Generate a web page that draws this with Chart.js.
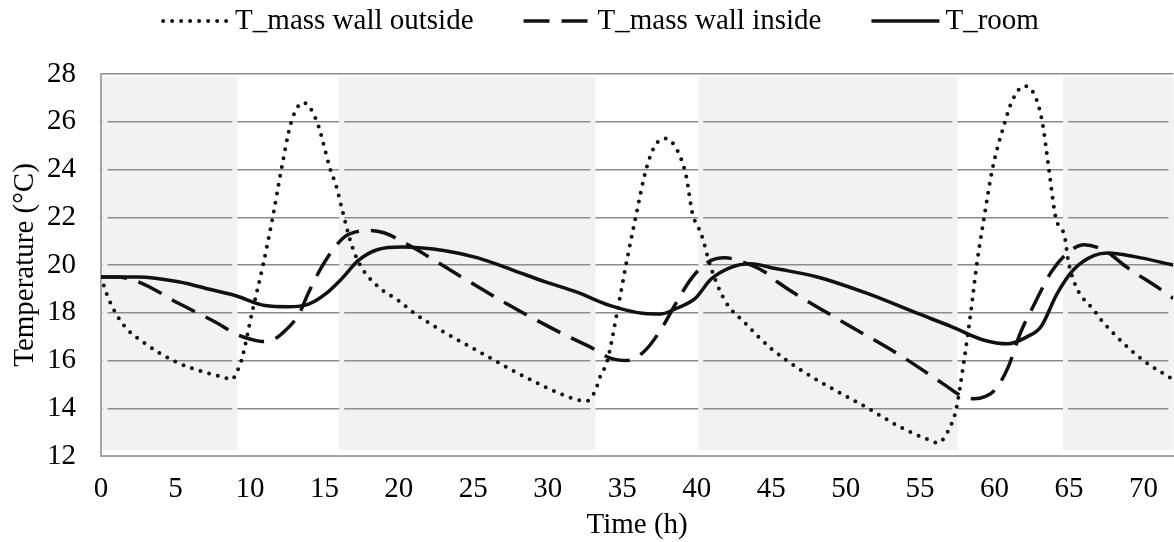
<!DOCTYPE html>
<html>
<head>
<meta charset="utf-8">
<title>Mass wall temperatures</title>
<script src="https://cdn.jsdelivr.net/npm/chart.js"></script>
<style>
    body { margin: 0; background: #fff; }
    canvas { display: block; }
</style>
</head>
<body>
<canvas id="tempChart" width="1174" height="542"></canvas>
<script>
// Outer face of the mass wall
const outsideHours = [0, 0.5, 1.5, 3, 5, 7, 8.2, 8.8, 9.1, 9.43, 10.14, 10.88, 11.53, 12.11, 12.78, 13.6, 14.5, 15.4,
    15.8, 16.2, 16.8, 17.4, 18.6, 20, 21, 23, 25.3, 27.6, 29.8, 31.5, 32.6, 33.2, 33.5, 34, 34.65, 35.25, 35.9, 36.6,
    37.2, 37.9, 38.7, 39.3, 39.7, 40.3, 40.95, 41.9, 43.2, 45, 47, 49.3, 51.5, 53.7, 55.5, 56.2, 57, 57.4, 57.95,
    58.4, 58.8, 59.3, 59.85, 60.7, 61.2, 62, 62.7, 63.2, 63.65, 64.1, 64.7, 65, 66.8, 68.2, 70, 72];
const outsideTemps = [19.5, 18.6, 17.5, 16.7, 15.95, 15.5, 15.3, 15.2, 15.5, 16, 18, 20, 22, 24, 26, 26.8, 26, 24,
    23.3, 22.3, 20.9, 20, 19.1, 18.5, 18, 17.2, 16.4, 15.6, 14.9, 14.45, 14.3, 14.75, 15.3, 16, 18, 20, 22, 24,
    25, 25.3, 24.8, 23.7, 22.2, 21.3, 19.9, 18.5, 17.6, 16.5, 15.6, 14.75, 14, 13.2, 12.7, 12.55, 13.2, 13.9, 16,
    18, 20, 22, 24, 26, 26.9, 27.5, 27.1, 26, 24, 22, 21.2, 20, 18, 17, 16, 15.2];

// Inner face of the mass wall
const insideHours = [0, 1, 2.5, 5.2, 7.7, 9.1, 10, 10.8, 11.5, 12.1, 13.3, 13.9, 14.8, 15.7, 16.4, 17.2, 18, 19, 20.9,
    24.2, 27.6, 30.9, 32.9, 34.2, 35.3, 36.5, 37.6, 38.7, 39.6, 40.7, 41.9, 43.2, 44.6, 45.4, 49.3, 53.7, 56.6, 57.7,
    58.6, 59.4, 60, 60.9, 61.7, 62.7, 63.8, 64.9, 66, 67.4, 68.9, 71.1, 72];
const insideTemps = [19.5, 19.5, 19.3, 18.4, 17.6, 17.1, 16.9, 16.8, 16.85, 17.1, 17.95, 18.8, 19.9, 20.75, 21.2,
    21.4, 21.45, 21.35, 20.75, 19.5, 18.25, 17.15, 16.55, 16.1, 16, 16.4, 17.3, 18.5, 19.4, 20.1, 20.3, 20.1, 19.7,
    19.3, 17.8, 16.2, 15, 14.55, 14.4, 14.5, 14.75, 15.7, 17.1, 18.4, 19.7, 20.5, 20.85, 20.6, 19.9, 19, 18.6];

// Room air
const roomHours = [0, 2.5, 5.2, 7.5, 9.1, 11, 12.6, 13.9, 15.1, 16.2, 17.3, 18.6, 20.2, 23.1, 25.3, 27.6, 29.8, 32,
    34.2, 36.5, 37.6, 38.7, 39.9, 40.95, 42.3, 43.6, 45.3, 48.1, 51.5, 54.8, 57.1, 59.3, 60.9, 62.2, 63.1, 64.2,
    65.3, 66.7, 67.6, 69.4, 72];
const roomTemps = [19.5, 19.5, 19.3, 18.95, 18.7, 18.3, 18.25, 18.35, 18.8, 19.45, 20.2, 20.65, 20.75, 20.6, 20.3,
    19.8, 19.3, 18.85, 18.3, 17.97, 17.95, 18.2, 18.6, 19.4, 19.9, 20.05, 19.85, 19.5, 18.8, 17.98, 17.42, 16.85,
    16.7, 17, 17.4, 18.8, 19.8, 20.4, 20.5, 20.35, 20];

// Shaded periods (h)
const bandStarts = [0, 15.9, 40, 64.5];
const bandEnds = [9.15, 33.2, 57.5, 72];

const seriesNames = ['T_mass wall outside', 'T_mass wall inside', 'T_room'];

function toPoints(hours, temps) {
    return hours.map((h, i) => ({ x: h, y: temps[i] }));
}

const serif = '"Liberation Serif", "Times New Roman", serif';
const bandColor = '#f2f2f2';

// grey day/night bands behind the grid, with the grid cut near their edges
const bandPlugin = {
    id: 'bands',
    beforeDraw(chart) {
        const { ctx, scales: { x, y } } = chart;
        const top = y.getPixelForValue(28) + 3;
        const bottom = y.getPixelForValue(12) - 6;
        ctx.save();
        ctx.fillStyle = bandColor;
        bandStarts.forEach((s, i) => {
            const x0 = x.getPixelForValue(s) + 1.5;
            const x1 = Math.min(x.getPixelForValue(bandEnds[i]), chart.width + 10);
            ctx.beginPath();
            ctx.roundRect(x0, top, x1 - x0, bottom - top, 3);
            ctx.fill();
        });
        ctx.restore();
    },
    beforeDatasetsDraw(chart) {
        const { ctx, scales: { x, y } } = chart;
        const top = y.getPixelForValue(28) + 3;
        const bottom = y.getPixelForValue(12) - 6;
        ctx.save();
        ctx.fillStyle = bandColor;
        bandStarts.forEach((s, i) => {
            const x0 = x.getPixelForValue(s) + 1.5;
            const x1 = x.getPixelForValue(bandEnds[i]);
            ctx.fillRect(x0, top, 5, bottom - top);
            ctx.fillRect(x1 - 5, top, 5, bottom - top);
        });
        ctx.restore();
    }
};

// legend row drawn across the top
const lineLegend = {
    id: 'lineLegend',
    afterDraw(chart) {
        const { ctx } = chart;
        const sample = 68, gap = 6, spacing = 50, cy = 21;
        ctx.save();
        ctx.font = '29px ' + serif;
        const widths = chart.data.datasets.map(ds => ctx.measureText(ds.label).width);
        const total = widths.reduce((a, w) => a + sample + gap + w, 0) + spacing * (widths.length - 1);
        let cx = 600 - total / 2;
        chart.data.datasets.forEach((ds, i) => {
            ctx.strokeStyle = ds.borderColor;
            ctx.lineWidth = ds.borderWidth;
            ctx.lineCap = ds.borderCapStyle || 'butt';
            ctx.setLineDash(ds.borderDash || []);
            ctx.beginPath();
            ctx.moveTo(cx + (ds.borderCapStyle === 'round' ? 2 : 0), cy);
            ctx.lineTo(cx + sample, cy);
            ctx.stroke();
            ctx.setLineDash([]);
            ctx.fillStyle = '#000';
            ctx.textBaseline = 'middle';
            ctx.fillText(ds.label, cx + sample + gap, cy);
            cx += sample + gap + widths[i] + spacing;
        });
        ctx.restore();
    }
};

Chart.defaults.font.family = serif;
Chart.defaults.font.size = 29;
Chart.defaults.color = '#000';

new Chart(document.getElementById('tempChart'), {
    type: 'line',
    data: {
        datasets: [
            {
                label: seriesNames[0],
                data: toPoints(outsideHours, outsideTemps),
                borderColor: '#111',
                borderWidth: 4,
                borderDash: [0, 9],
                borderCapStyle: 'round'
            },
            {
                label: seriesNames[1],
                data: toPoints(insideHours, insideTemps),
                borderColor: '#111',
                borderWidth: 3.5,
                borderDash: [26, 12]
            },
            {
                label: seriesNames[2],
                data: toPoints(roomHours, roomTemps),
                borderColor: '#111',
                borderWidth: 3.5
            }
        ]
    },
    options: {
        responsive: false,
        animation: false,
        layout: { padding: { top: 74, left: 0, right: 0, bottom: 0 } },
        elements: {
            point: { radius: 0 },
            line: { cubicInterpolationMode: 'monotone', fill: false }
        },
        plugins: {
            legend: { display: false },
            tooltip: { enabled: false }
        },
        scales: {
            x: {
                type: 'linear',
                min: 0,
                max: 72,
                afterFit(scale) { scale.height = 86; },
                ticks: { stepSize: 5, includeBounds: false, padding: 16, maxRotation: 0 },
                grid: { display: false, drawTicks: false },
                border: { display: true, color: '#a6a6a6', width: 2 },
                title: { display: true, text: 'Time (h)', padding: { top: 0, bottom: -1 } }
            },
            y: {
                min: 12,
                max: 28,
                afterFit(scale) { scale.width = 101; },
                ticks: { stepSize: 2, padding: 25 },
                grid: { color: '#8c8c8c', lineWidth: 1.5, drawTicks: false },
                border: { display: true, color: '#a6a6a6', width: 2 },
                title: { display: true, text: 'Temperature (°C)', padding: { top: 8, bottom: 0 } }
            }
        }
    },
    plugins: [bandPlugin, lineLegend]
});
</script>
</body>
</html>
